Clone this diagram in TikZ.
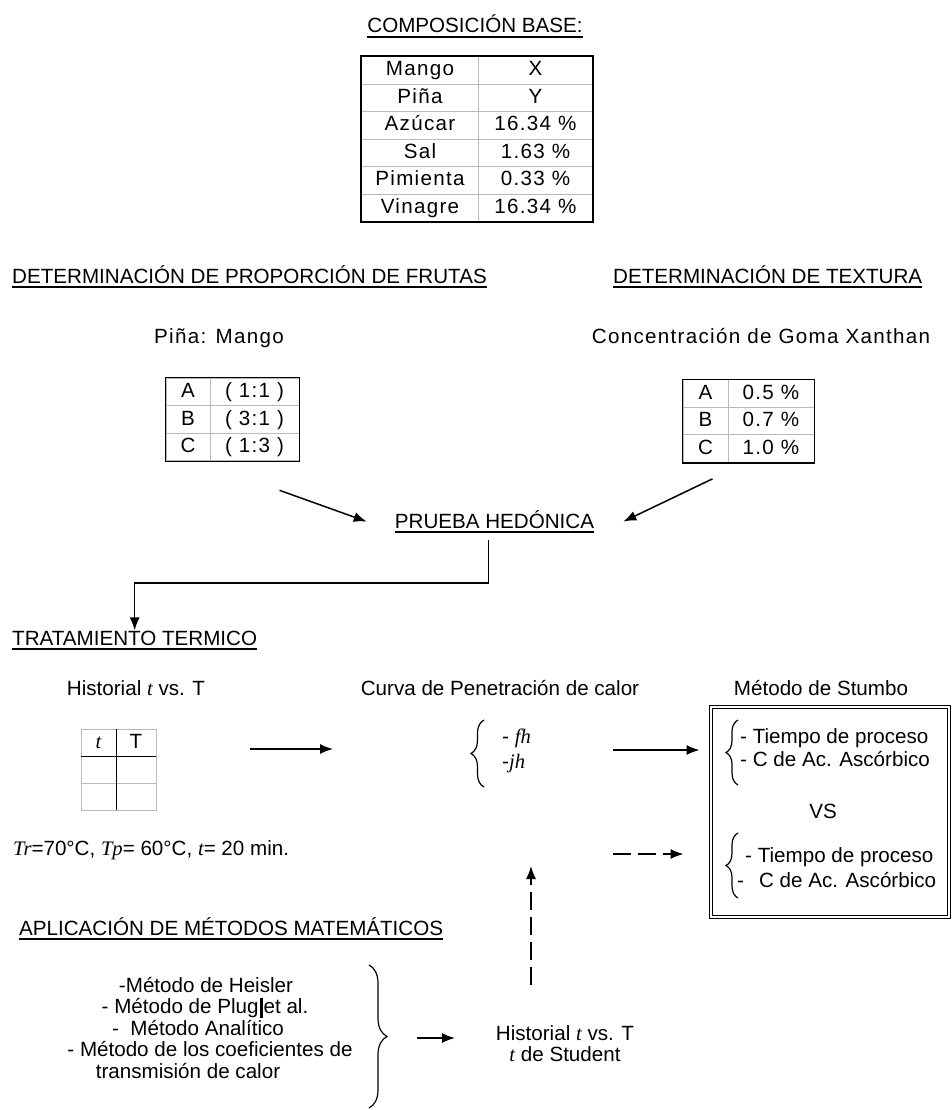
\documentclass[tikz,border=0pt]{standalone}
\usepackage{fontspec}
\setmainfont{Liberation Sans}
\newfontfamily\espaciada[LetterSpace=6.3]{Liberation Sans}
\newfontfamily\cursiva{Liberation Serif}
\newcommand{\vi}[1]{{\cursiva\itshape #1}}
\newcommand{\subrayar}[1]{\setbox0\hbox{#1}\rlap{\rule[-5pt]{\wd0}{1.6pt}}\box0}
\usetikzlibrary{arrows.meta,matrix,decorations.pathreplacing}
\tikzset{
  letra/.style={font=\fontsize{20.6}{24}\selectfont},
  texto/.style={letra, inner sep=0pt, anchor=base},
  titulo/.style={texto, anchor=base west},
  tabla/.style={matrix of nodes, nodes in empty cells,
    inner sep=0pt, row sep=-0.8pt, column sep=-0.8pt,
    nodes={draw=gray!55, line width=0.8pt, inner sep=0pt, minimum height=27.5pt,
      text height=15pt, text depth=4pt, anchor=center,
      font=\espaciada\fontsize{20.6}{24}\selectfont}},
  borde/.style={line width=1.3pt},
  flecha/.style={-{Latex[length=13pt,width=10pt]}, line width=1.5pt},
  discontinua/.style={flecha, dash pattern=on 18pt off 7pt},
  llave/.style={decorate, decoration={brace, amplitude=#1}, line width=1.2pt},
  dobleborde/.style={draw, double, double distance=2pt, line width=1pt, inner sep=0pt}
}
\begin{document}
\begin{tikzpicture}[x=1pt,y=-1pt]
  \useasboundingbox (0,0) rectangle (952,1110);

  \node[titulo, anchor=base] (composicion) at (475,33) {\subrayar{COMPOSICIÓN BASE:}};
  \matrix[tabla, column 1/.style={nodes={minimum width=117pt}},
    column 2/.style={nodes={minimum width=114pt}}] (base) at (477,139) {
    Mango & X \\
    Piña & Y \\
    Azúcar & 16.34 \% \\
    Sal & 1.63 \% \\
    Pimienta & 0.33 \% \\
    Vinagre & 16.34 \% \\
  };
  \draw[borde] (base.north west) rectangle (base.south east);

  \node[titulo] (proporcion) at (12,283) {\subrayar{DETERMINACIÓN DE PROPORCIÓN DE FRUTAS}};
  \node[titulo] (texturatit) at (613,283) {\subrayar{DETERMINACIÓN DE TEXTURA}};
  \node[texto, font=\espaciada\fontsize{20.6}{24}\selectfont] (pinamango) at (219,343) {Piña: Mango};
  \node[texto, font=\espaciada\fontsize{20.6}{24}\selectfont] (goma) at (761,343) {Concentración de Goma Xanthan};

  \matrix[tabla, column 1/.style={nodes={minimum width=44pt}},
    column 2/.style={nodes={minimum width=89pt}}] (frutas) at (232.5,419.5) {
    A & ( 1:1 ) \\
    B & ( 3:1 ) \\
    C & ( 1:3 ) \\
  };
  \draw[borde] (frutas.north west) rectangle (frutas.south east);
  \matrix[tabla, column 1/.style={nodes={minimum width=45pt}},
    column 2/.style={nodes={minimum width=86pt}}] (textura) at (748.5,421) {
    A & 0.5 \% \\
    B & 0.7 \% \\
    C & 1.0 \% \\
  };
  \draw[borde] (textura.north west) rectangle (textura.south east);

  \node[titulo, anchor=base] (hedonica) at (494.5,528) {\subrayar{PRUEBA HEDÓNICA}};
  \draw[flecha] ([shift={(-20pt,-29pt)}]frutas.south east) -- ([xshift=-28pt]hedonica.west);
  \draw[flecha] ([shift={(-36pt,-16pt)}]textura.south) -- ([xshift=29pt]hedonica.east);

  \node[titulo] (tratamiento) at (12,645) {\subrayar{TRATAMIENTO TERMICO}};
  \draw[flecha] ([shift={(-6pt,-7pt)}]hedonica.south) -- ++(0,43) -| (tratamiento.north);

  \node[texto] (historial) at (136,695) {Historial \vi{t} vs. T};
  \node[texto] (curva) at (500,695) {Curva de Penetración de calor};
  \node[texto] (metodo) at (821,695) {Método de Stumbo};

  \matrix[tabla,
    column 1/.style={nodes={minimum width=35pt}},
    column 2/.style={nodes={minimum width=40pt}},
    nodes={minimum height=27pt}] (tablaT) at (118.5,769.5) {
    \vi{t} & T \\
    & \\
    & \\
  };
  \draw[line width=1.5pt] (tablaT-1-1.north east) -- (tablaT-3-1.south east);
  \draw[line width=1.5pt] (tablaT-1-1.south west) -- (tablaT-1-2.south east);

  \draw[llave=13pt] (484,787) -- (484,720);
  \node[texto, anchor=base west] (fh) at (502,743) {- \vi{fh}};
  \node[texto, anchor=base west] (jh) at (502,768) {-\vi{jh}};

  \node[dobleborde, minimum width=238pt, minimum height=210pt] (stumbo) at (830,812) {};
  \draw[llave=12pt] (738,785) -- (738,720);
  \node[texto, anchor=base west] (tiempo1) at (740,743) {- Tiempo de proceso};
  \node[texto, anchor=base west] (acido1) at (740,766) {- C de Ac. Ascórbico};
  \node[texto] (vs) at (823,818) {VS};
  \draw[llave=12pt] (738,898) -- (738,833);
  \node[texto, anchor=base west] (tiempo2) at (745,862) {- Tiempo de proceso};
  \node[texto, anchor=base west] (acido2) at (737,887) {-\hspace{15pt}C de Ac. Ascórbico};

  \coordinate (f1) at (250,749);
  \coordinate (f2) at (613,750);
  \coordinate (f3) at (613,854);
  \coordinate (f4) at (531,985);
  \draw[flecha] (f1) -- ++(83,0);
  \draw[flecha, shorten >=11pt] (f2) -- (f2 -| stumbo.west);
  \draw[discontinua, shorten >=27pt] (f3) -- (f3 -| stumbo.west);
  \draw[discontinua] (f4) -- (531,866);

  \node[titulo] (condiciones) at (13,855) {\vi{Tr}=70°C, \vi{Tp}= 60°C, \vi{t}= 20 min.};

  \node[titulo] (aplicacion) at (19,935) {\subrayar{APLICACIÓN DE MÉTODOS MATEMÁTICOS}};
  \node[texto] (heisler) at (206,992) {-Método de Heisler};
  \node[texto] (plug) at (205,1013.5) {- Método de Plug\hspace{1pt}\rule[-4pt]{3pt}{20pt}\hspace{1pt}et al.};
  \node[texto] (analitico) at (198,1035) {-\ \ Método Analítico};
  \node[texto] (coef) at (210,1056.5) {- Método de los coeficientes de};
  \node[texto] (transmision) at (188,1078) {transmisión de calor};
  \draw[llave=18pt] (369,965) -- (369,1108);

  \coordinate (f5) at (417,1038);
  \draw[flecha] (f5) -- ++(38,0);
  \node[texto] (historial2) at (565,1040) {Historial \vi{t} vs. T};
  \node[texto] (student) at (565,1061) {\vi{t} de Student};
\end{tikzpicture}
\end{document}
